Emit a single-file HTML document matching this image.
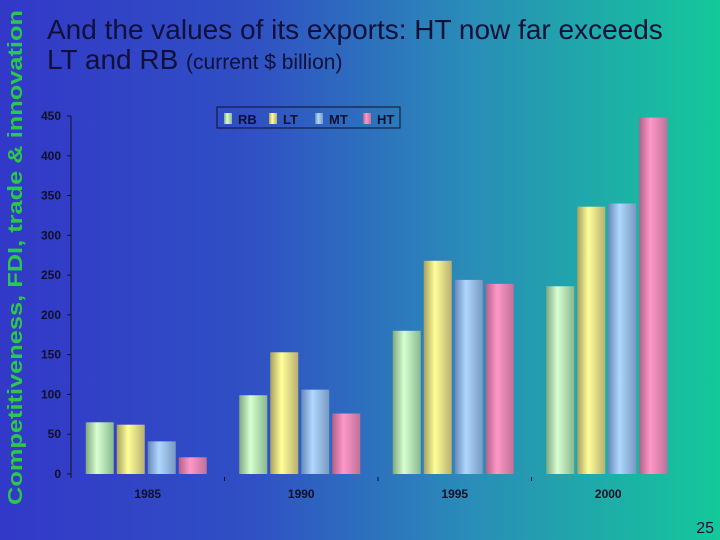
<!DOCTYPE html>
<html><head><meta charset="utf-8"><style>
html,body{margin:0;padding:0}
body{width:720px;height:540px;overflow:hidden;background:linear-gradient(90deg,#3238c8 0%,#3050c4 35%,#2a8cb8 65%,#14c89a 100%);position:relative;font-family:"Liberation Sans",sans-serif}
#title{position:absolute;left:47px;top:15px;font-size:28px;color:#101038;line-height:30px;white-space:nowrap}
#title span{font-size:21px}
#pg{position:absolute;right:6px;bottom:2px;font-size:16px;color:#101038}
</style></head><body>
<svg width="30" height="540" style="position:absolute;left:0;top:0">
<text x="0" y="0" transform="translate(22,505) rotate(-90)" font-family="Liberation Sans, sans-serif" font-weight="bold" font-size="20" fill="#2cc84a" textLength="495" lengthAdjust="spacingAndGlyphs">Competitiveness, FDI, trade &amp; innovation</text>
</svg>
<div id="title">And the values of its exports: HT now far exceeds<br>LT and RB <span>(current $ billion)</span></div>
<div id="pg">25</div>
<svg id="chart" width="720" height="540" style="position:absolute;left:0;top:0">
<defs>
<linearGradient id="gRB"><stop offset="0" stop-color="#80a880"/><stop offset=".4" stop-color="#d8ffd0"/><stop offset="1" stop-color="#88b890"/></linearGradient>
<linearGradient id="gLT"><stop offset="0" stop-color="#a8a060"/><stop offset=".4" stop-color="#ffff98"/><stop offset="1" stop-color="#b8b070"/></linearGradient>
<linearGradient id="gMT"><stop offset="0" stop-color="#6888b8"/><stop offset=".4" stop-color="#b0d8ff"/><stop offset="1" stop-color="#7898c0"/></linearGradient>
<linearGradient id="gHT"><stop offset="0" stop-color="#b06088"/><stop offset=".4" stop-color="#ff98c8"/><stop offset="1" stop-color="#c07098"/></linearGradient>
</defs>
</svg>
<script>
const categories=["1985","1990","1995","2000"];
const seriesNames=["RB","LT","MT","HT"];
const rbValues=[65,99,180,236];
const ltValues=[62,153,268,336];
const mtValues=[41,106,244,340];
const htValues=[21,76,239,448];
const yTicks=[0,50,100,150,200,250,300,350,400,450];
const series=[rbValues,ltValues,mtValues,htValues];
const svg=document.getElementById('chart');
const NS="http://www.w3.org/2000/svg";
const x0=71,x1=685,y0=474,y1=116,yMax=450;
const yScale=v=>y0-(v/yMax)*(y0-y1);
const band=(x1-x0)/categories.length;
const xCenter=i=>x0+band*(i+0.5);
function mk(t,a){const e=document.createElementNS(NS,t);for(const k in a)e.setAttribute(k,a[k]);svg.appendChild(e);return e;}
let ax=mk('line',{x1:x0,y1:y1,x2:x0,y2:y0+4,stroke:'#101028','stroke-width':1});


yTicks.forEach(v=>{
 const y=yScale(v);
 const tk=mk('line',{x1:x0-4,y1:y,x2:x0,y2:y,stroke:'#101028'});
 
 
 const t=mk('text',{x:x0-10,y:y+4,'text-anchor':'end','font-size':12,'font-weight':'bold',fill:'#101028'});
 t.textContent=v;
 
 
});
const grads=['gRB','gLT','gMT','gHT'];
categories.forEach((c,i)=>{
 const cx=xCenter(i);
 if(i>0){const tk=mk('line',{x1:x0+band*i,y1:y0+3,x2:x0+band*i,y2:y0+7,stroke:'#101028'});
  
  }
 const t=mk('text',{x:cx,y:y0+24,'text-anchor':'middle','font-size':12,'font-weight':'bold',fill:'#101028'});
 t.textContent=c;
 
 
 series.forEach((s,j)=>{
  const top=yScale(s[i]);
  const r=mk('rect',{x:cx-62+j*31,y:top,width:28,height:y0-top,fill:'url(#'+grads[j]+')'});
  
  
 });
});
const lg=mk('rect',{x:217,y:107,width:183,height:21,fill:'none',stroke:'#101028','stroke-width':1});


const lx=[224,269,315,363];
seriesNames.forEach((n,j)=>{
 const s=mk('rect',{x:lx[j],y:113,width:8,height:11,fill:'url(#'+grads[j]+')'});
 
 
 const t=mk('text',{x:lx[j]+14,y:124,'font-size':13,'font-weight':'bold',fill:'#101028'});
 t.textContent=n;
 
 
});
</script>
</body></html>
